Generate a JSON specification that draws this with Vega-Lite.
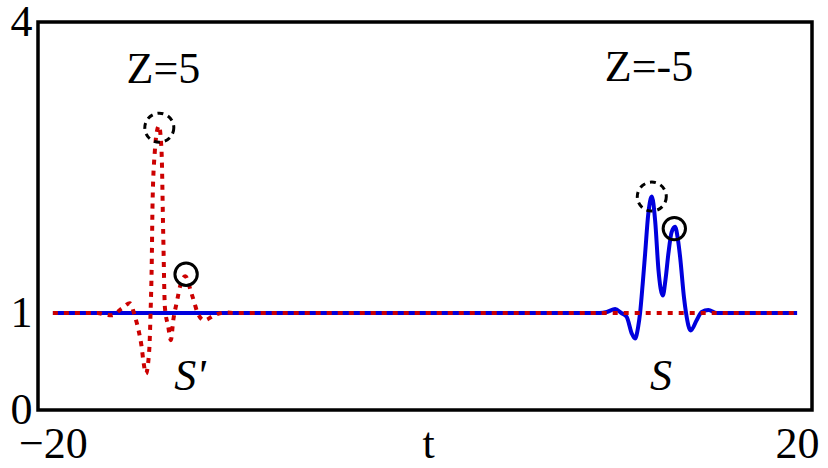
{
  "$schema": "https://vega.github.io/schema/vega-lite/v6.json",
  "width": 774,
  "height": 388,
  "autosize": {"type": "none"},
  "padding": {"left": 38, "top": 22, "right": 16, "bottom": 58},
  "background": "white",
  "config": {"view": {"stroke": "black", "strokeWidth": 3.5}, "font": "Liberation Serif, Times New Roman, serif"},
  "datasets": {
    "blue": [
      {"t": -20, "v": 1}, {"t": 9.4, "v": 1}, {"t": 9.77, "v": 1.01}, {"t": 10.22, "v": 1.04},
      {"t": 10.55, "v": 1.0}, {"t": 10.84, "v": 0.96}, {"t": 11.11, "v": 0.79}, {"t": 11.29, "v": 0.737},
      {"t": 11.45, "v": 0.85}, {"t": 11.56, "v": 1.0}, {"t": 11.7, "v": 1.3}, {"t": 11.83, "v": 1.61},
      {"t": 12.0, "v": 2.02}, {"t": 12.19, "v": 2.2}, {"t": 12.37, "v": 1.95}, {"t": 12.55, "v": 1.44},
      {"t": 12.78, "v": 1.18}, {"t": 12.93, "v": 1.35}, {"t": 13.08, "v": 1.61}, {"t": 13.25, "v": 1.83},
      {"t": 13.44, "v": 1.89}, {"t": 13.6, "v": 1.75}, {"t": 13.71, "v": 1.58}, {"t": 13.92, "v": 1.16},
      {"t": 14.03, "v": 1.0}, {"t": 14.28, "v": 0.82}, {"t": 14.6, "v": 0.925}, {"t": 14.87, "v": 1.01},
      {"t": 15.23, "v": 1.03}, {"t": 15.68, "v": 1.0}, {"t": 20, "v": 1}
    ],
    "red": [
      {"t": -20, "v": 1}, {"t": -17.6, "v": 1}, {"t": -17.2, "v": 0.985}, {"t": -16.84, "v": 0.976},
      {"t": -16.31, "v": 1.045}, {"t": -15.86, "v": 1.10}, {"t": -15.6, "v": 0.97}, {"t": -15.36, "v": 0.79},
      {"t": -15.23, "v": 0.65}, {"t": -15.14, "v": 0.51}, {"t": -15.0, "v": 0.375}, {"t": -14.82, "v": 0.62},
      {"t": -14.75, "v": 1.0}, {"t": -14.69, "v": 1.47}, {"t": -14.64, "v": 2.16}, {"t": -14.52, "v": 2.67},
      {"t": -14.42, "v": 2.86}, {"t": -14.3, "v": 2.93}, {"t": -14.16, "v": 2.67}, {"t": -14.07, "v": 1.82},
      {"t": -13.98, "v": 1.06}, {"t": -13.8, "v": 0.86}, {"t": -13.66, "v": 0.72}, {"t": -13.53, "v": 0.925},
      {"t": -13.32, "v": 1.13}, {"t": -13.17, "v": 1.27}, {"t": -12.88, "v": 1.38}, {"t": -12.58, "v": 1.22},
      {"t": -12.4, "v": 1.11}, {"t": -12.24, "v": 1.01}, {"t": -11.87, "v": 0.925}, {"t": -11.29, "v": 0.98},
      {"t": -10.75, "v": 1.005}, {"t": -10.2, "v": 1.0}, {"t": 20, "v": 1}
    ],
    "dashedCircles": [{"t": -14.28, "v": 2.91}, {"t": 12.19, "v": 2.2}],
    "solidCircles": [{"t": -12.84, "v": 1.4}, {"t": 13.4, "v": 1.87}],
    "zLabels": [{"t": -14.06, "v": 3.37, "label": "Z=5"}, {"t": 12.04, "v": 3.39, "label": "Z=-5"}],
    "sLabels": [{"t": -12.63, "v": 0.206, "label": "S'"}, {"t": 12.69, "v": 0.206, "label": "S"}]
  },
  "encoding": {
    "x": {
      "field": "t", "type": "quantitative",
      "scale": {"domain": [-20.8, 20.8], "nice": false, "zero": false},
      "axis": {
        "values": [-20, 20], "title": "t", "grid": false, "domain": false, "ticks": false, "tickSize": 0,
        "labelFontSize": 44, "labelFont": "Liberation Serif, Times New Roman, serif", "labelColor": "black",
        "labelBaseline": "alphabetic", "labelPadding": 47, "labelFlush": false, "labelOverlap": false,
        "titleFontSize": 44, "titleFont": "Liberation Serif, Times New Roman, serif", "titleFontWeight": "normal", "titleColor": "black",
        "titleX": 390, "titleY": 47, "titleBaseline": "alphabetic", "titleAlign": "center"
      }
    },
    "y": {
      "field": "v", "type": "quantitative",
      "scale": {"domain": [0, 4], "nice": false, "zero": false},
      "axis": {
        "values": [0, 1, 4], "title": null, "grid": false, "domain": false, "ticks": false, "tickSize": 0,
        "labelFontSize": 44, "labelFont": "Liberation Serif, Times New Roman, serif", "labelColor": "black",
        "labelPadding": 6, "labelFlush": false, "labelOverlap": false, "labelBaseline": "middle"
      }
    }
  },
  "layer": [
    {"data": {"name": "blue"}, "mark": {"type": "line", "color": "#0000dd", "strokeWidth": 4, "interpolate": "monotone"}},
    {"data": {"name": "red"}, "mark": {"type": "line", "color": "#cc0000", "strokeWidth": 4, "interpolate": "monotone", "strokeDash": [5, 6], "strokeCap": "butt"}},
    {"data": {"name": "dashedCircles"}, "mark": {"type": "point", "shape": "circle", "filled": false, "stroke": "black", "strokeWidth": 3, "size": 841, "strokeDash": [6, 5], "opacity": 1}},
    {"data": {"name": "solidCircles"}, "mark": {"type": "point", "shape": "circle", "filled": false, "stroke": "black", "strokeWidth": 3, "size": 500, "opacity": 1}},
    {"data": {"name": "zLabels"}, "mark": {"type": "text", "font": "Liberation Serif, Times New Roman, serif", "fontSize": 44, "align": "center", "baseline": "alphabetic", "color": "black"}, "encoding": {"text": {"field": "label"}}},
    {"data": {"name": "sLabels"}, "mark": {"type": "text", "font": "Liberation Serif, Times New Roman, serif", "fontSize": 44, "fontStyle": "italic", "align": "center", "baseline": "alphabetic", "color": "black"}, "encoding": {"text": {"field": "label"}}}
  ]
}
